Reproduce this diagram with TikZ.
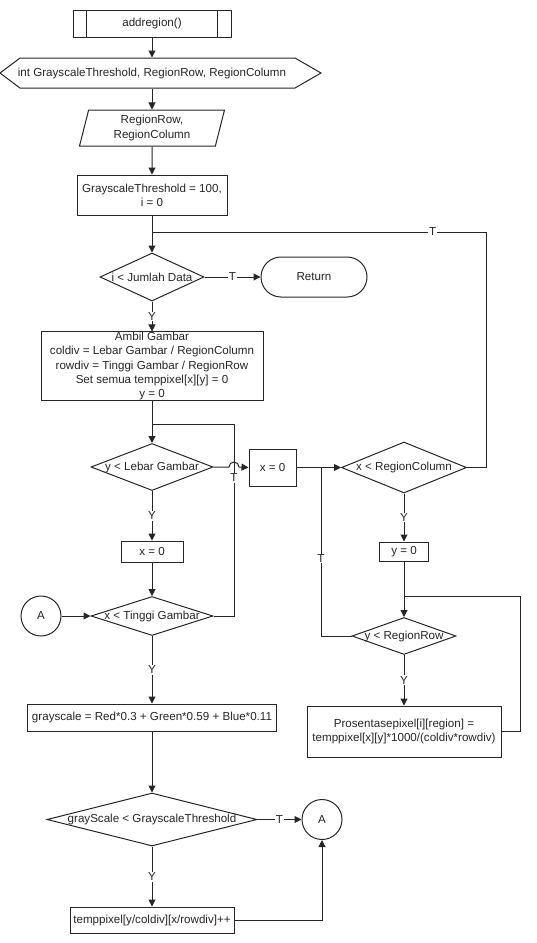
\documentclass[tikz,border=0pt]{standalone}
\usepackage{fontspec}
\setmainfont{Liberation Sans}
\usetikzlibrary{shapes.geometric,shapes.misc,arrows.meta,calc}

\tikzset{
  proc/.style={draw, rectangle, align=center, inner sep=2pt},
  dec/.style={draw, diamond, inner sep=0pt},
  io/.style={draw, trapezium, trapezium left angle=70, trapezium right angle=110,
    trapezium stretches body, align=center, inner sep=0pt},
  term/.style={draw, rounded rectangle, inner sep=0pt},
  conn/.style={draw, circle, minimum size=40, inner sep=0pt},
  arrow/.style={-{Triangle[length=7pt,width=7pt]}},
  lbl/.style={fill=white, inner sep=1pt}
}

\begin{document}
\begin{tikzpicture}[x=1pt, y=-1pt, line width=1pt, color=black!85,
  font=\fontsize{11.6}{14.3}\selectfont]

\useasboundingbox (0,0) rectangle (537,943);

% Left column
\node[proc, minimum width=158, minimum height=27] (ar) at (152,23.5) {addregion()};
\draw ([xshift=14]ar.north west) -- ([xshift=14]ar.south west);
\draw ([xshift=-14]ar.north east) -- ([xshift=-14]ar.south east);

% Declaration (hexagon)
\node[minimum height=30, inner sep=0pt] (decl) at (152,73) {int GrayscaleThreshold, RegionRow, RegionColumn};
\draw (0,73) -- (20,58) -- (295,58) -- (321,73) -- (295,88) -- (20,88) -- cycle;

\node[io, minimum width=145, minimum height=36] (inp) at (152,128) {RegionRow,\\RegionColumn};
\node[proc, minimum width=150, minimum height=40] (init) at (152,195) {GrayscaleThreshold = 100,\\i = 0};
\node[dec, minimum width=104, minimum height=48] (idata) at (152,277) {\makebox[0pt]{i < Jumlah Data}};
\node[term, minimum width=106, minimum height=40] (ret) at (314,277) {Return};
\node[proc, minimum width=222, inner ysep=0pt] (ambil) at (152,366)
  {Ambil Gambar\\coldiv = Lebar Gambar / RegionColumn\\rowdiv = Tinggi Gambar / RegionRow\\Set semua temppixel[x][y] = 0\\y = 0};
\node[dec, minimum width=122, minimum height=47] (ylebar) at (152,467) {\makebox[0pt]{y < Lebar Gambar}};
\node[proc, minimum width=62, minimum height=21] (xnol1) at (152,551.5) {x = 0};
\node[dec, minimum width=122, minimum height=39] (xtinggi) at (152,616) {\makebox[0pt]{x < Tinggi Gambar}};
\node[conn] (conA1) at (41,616) {A};
\node[proc, minimum width=249, minimum height=27] (gray) at (152,717.5) {grayscale = Red*0.3 + Green*0.59 + Blue*0.11};
\node[dec, minimum width=210, minimum height=53] (gcmp) at (152,819.5) {\makebox[0pt]{grayScale < GrayscaleThreshold}};
\node[conn] (conA2) at (322,819.5) {A};
\node[proc, minimum width=164, minimum height=26] (temppix) at (152,920) {temppixel[y/coldiv][x/rowdiv]++};

% Right column
\node[proc, minimum width=47, minimum height=37] (xnol2) at (272.5,467.5) {x = 0};
\node[dec, minimum width=125, minimum height=51] (xregcol) at (404,467.5) {\makebox[0pt]{x < RegionColumn}};
\node[proc, minimum width=49, minimum height=19] (ynol) at (404,551.5) {y = 0};
\node[dec, minimum width=104, minimum height=37] (yregrow) at (404,636) {\makebox[0pt]{y < RegionRow}};
\node[proc, minimum width=194, minimum height=51] (prosen) at (404,731.5)
  {Prosentasepixel[i][region] =\\temppixel[x][y]*1000/(coldiv*rowdiv)};

% Corners of the loops
\coordinate (jB) at (152,232);
\coordinate (cB) at (486,232);
\coordinate (jA) at (152,424);
\coordinate (cA) at (234,424);
\coordinate (jC) at (321,467.5);
\coordinate (cD) at (520,596);
\coordinate (jD) at (404,596);

% Draw the connectors
\draw[arrow] (ar) -- (decl);
\draw[arrow] (decl) -- (inp);
\draw[arrow] (inp) -- (init);
\draw[arrow] (init) -- (idata);
\draw[arrow] (idata) -- node[lbl]{T} (ret);
\draw[arrow] (idata) -- node[lbl]{Y} (ambil);
\draw[arrow] (ambil) -- (ylebar);
\draw[arrow] (ylebar.east) -- ($(cA |- ylebar.east)+(-5,0)$)
  arc[start angle=180, end angle=0, radius=5pt] -- (xnol2.west);
\draw[arrow] (ylebar) -- node[lbl]{Y} (xnol1);
\draw[arrow] (xnol1) -- (xtinggi);
\draw[arrow] (conA1) -- (xtinggi);
\draw (xtinggi.east) -| node[lbl, pos=0.86]{T} (cA) -- (jA);
\draw[arrow] (xtinggi) -- node[lbl]{Y} (gray);
\draw[arrow] (gray) -- (gcmp);
\draw[arrow] (gcmp) -- node[lbl]{T} (conA2);
\draw[arrow] (gcmp) -- node[lbl]{Y} (temppix);
\draw[arrow] (temppix) -| (conA2);

\draw[arrow] (xnol2) -- (xregcol);
\draw (xregcol.east) -| (cB) -- node[lbl, pos=0.16]{T} (jB);
\draw[arrow] (xregcol) -- node[lbl]{Y} (ynol);
\draw[arrow] (ynol) -- (yregrow);
\draw (yregrow.west) -| node[lbl, pos=0.73]{T} (jC);
\draw[arrow] (yregrow) -- node[lbl]{Y} (prosen);
\draw (prosen.east) -| (cD) -- (jD);

\end{tikzpicture}
\end{document}
